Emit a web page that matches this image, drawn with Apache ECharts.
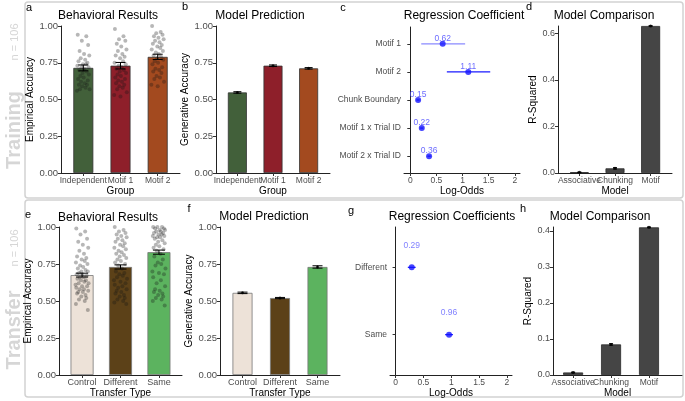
<!DOCTYPE html>
<html><head><meta charset="utf-8">
<script src="https://cdn.jsdelivr.net/npm/echarts@6/dist/echarts.min.js"></script>
<style>html,body{margin:0;padding:0;background:#fff}#c{width:685px;height:401px}</style>
</head><body><div id="c"></div>
<script>
// ---------- DATA ----------
const trainGroups = ['Independent', 'Motif 1', 'Motif 2'];
const trainEmpMean = [0.715, 0.73, 0.79];
const trainEmpSe = [0.02, 0.022, 0.018];
const trainPtsIndependent = [0.94,0.93,0.90,0.87,0.83,0.81,0.80,0.78,0.77,0.76,0.75,0.74,0.74,0.73,0.72,0.72,0.71,0.70,0.69,0.68,0.67,0.66,0.65,0.64,0.63,0.62,0.61,0.60,0.60,0.59,0.58,0.57,0.57,0.56,0.70];
const trainPtsMotif1 = [0.98,0.93,0.91,0.90,0.88,0.86,0.84,0.83,0.81,0.80,0.79,0.78,0.76,0.75,0.74,0.73,0.72,0.71,0.70,0.69,0.68,0.67,0.66,0.65,0.64,0.63,0.62,0.61,0.60,0.59,0.58,0.57,0.55,0.53,0.52];
const trainPtsMotif2 = [1.00,0.96,0.95,0.94,0.93,0.92,0.91,0.90,0.89,0.88,0.87,0.86,0.85,0.84,0.83,0.82,0.81,0.80,0.79,0.78,0.77,0.76,0.75,0.74,0.72,0.71,0.70,0.69,0.68,0.66,0.65,0.64,0.62,0.60,0.59];
const jitterTrain = [-0.15,0.08,-0.04,0.13,-0.10,0.02,0.16,-0.07,0.05,-0.13,0.11,-0.01,0.07,-0.16,0.14,-0.05,0.03,-0.11,0.09,-0.02,0.15,-0.08,0.01,-0.14,0.12,-0.06,0.04,-0.12,0.10,-0.03,0.06,-0.09,0.17,-0.17,0.00];
const trainModelMean = [0.548, 0.73, 0.712];
const trainModelSe = [0.005, 0.005, 0.005];
const trainCoefNames = ['Motif 1', 'Motif 2', 'Chunk Boundary', 'Motif 1 x Trial ID', 'Motif 2 x Trial ID'];
const trainCoef = [0.62, 1.11, 0.15, 0.22, 0.36];
const trainCoefLow = [0.21, 0.70, 0.12, 0.19, 0.33];
const trainCoefHigh = [1.05, 1.53, 0.18, 0.25, 0.39];
const trainModels = ['Associative', 'Chunking', 'Motif'];
const trainR2 = [0.003, 0.02, 0.632];
const trainR2Se = [0.001, 0.003, 0.001];

const transTypes = ['Control', 'Different', 'Same'];
const transEmpMean = [0.675, 0.73, 0.83];
const transEmpSe = [0.013, 0.014, 0.014];
const transPtsControl = [0.99,0.97,0.95,0.92,0.90,0.88,0.86,0.84,0.82,0.80,0.79,0.78,0.77,0.76,0.75,0.74,0.73,0.72,0.71,0.70,0.70,0.69,0.68,0.68,0.67,0.66,0.66,0.65,0.64,0.64,0.63,0.62,0.62,0.61,0.60,0.60,0.59,0.58,0.58,0.57,0.56,0.56,0.55,0.54,0.53,0.52,0.51,0.50,0.48,0.44];
const transPtsDifferent = [1.00,0.98,0.97,0.96,0.95,0.94,0.93,0.92,0.91,0.90,0.89,0.88,0.87,0.86,0.85,0.84,0.83,0.82,0.81,0.80,0.79,0.78,0.77,0.76,0.75,0.74,0.72,0.70,0.69,0.68,0.67,0.66,0.65,0.64,0.63,0.62,0.61,0.60,0.59,0.58,0.57,0.56,0.55,0.54,0.53,0.52,0.51,0.50,0.49,0.48];
const transPtsSame = [1.00,1.00,1.00,0.99,0.99,0.98,0.98,0.97,0.97,0.96,0.96,0.95,0.95,0.94,0.94,0.93,0.93,0.92,0.91,0.90,0.89,0.88,0.87,0.86,0.85,0.84,0.82,0.80,0.78,0.76,0.75,0.74,0.72,0.70,0.69,0.68,0.66,0.64,0.62,0.60,0.58,0.57,0.56,0.55,0.54,0.53,0.52,0.51,0.50,0.47];
const jitterTransfer = [-0.15,0.08,-0.04,0.13,-0.10,0.02,0.16,-0.07,0.05,-0.13,0.11,-0.01,0.07,-0.16,0.14,-0.05,0.03,-0.11,0.09,-0.02,0.15,-0.08,0.01,-0.14,0.12,-0.06,0.04,-0.12,0.10,-0.03,0.06,-0.09,0.17,-0.17,0.00,0.13,-0.15,0.05,-0.06,0.16,-0.10,0.02,-0.13,0.09,-0.02,0.11,-0.08,0.07,-0.16,0.15];
const transModelMean = [0.555, 0.52, 0.73];
const transModelSe = [0.005, 0.004, 0.008];
const transCoefNames = ['Different', 'Same'];
const transCoef = [0.29, 0.96];
const transCoefLow = [0.22, 0.89];
const transCoefHigh = [0.36, 1.03];
const transModels = ['Associative', 'Chunking', 'Motif'];
const transR2 = [0.007, 0.085, 0.41];
const transR2Se = [0.001, 0.002, 0.001];

const accTicks = [0, 0.25, 0.5, 0.75, 1];
const oddsTicks = [0, 0.5, 1, 1.5, 2];
const r2TicksTrain = [0, 0.2, 0.4, 0.6];
const r2TicksTrans = [0, 0.1, 0.2, 0.3, 0.4];

// ---------- STYLE ----------
const FONT = 'Liberation Sans, Arial, sans-serif';
const trainColors = ['#42603a', '#8e1f2a', '#a34a1f'];
const transColors = ['#ede2d8', '#5c4118', '#5cb35f'];
const greyBar = '#454545';
const axLine = {show: true, lineStyle: {color: '#222', width: 1}};
const axTickBase = {show: true, length: 3, lineStyle: {color: '#333'}};
const nameStyle = {fontSize: 10, color: '#000', fontFamily: FONT};
function lab(size, extra) {
  return Object.assign({fontSize: size, color: '#4d4d4d', fontFamily: FONT, margin: 3, hideOverlap: false,
    showMinLabel: true, showMaxLabel: true}, extra || {});
}

const grids = [
  {left: 61, top: 26, width: 119, height: 147},
  {left: 216, top: 26, width: 114, height: 147},
  {left: 404, top: 27, width: 116, height: 146},
  {left: 558, top: 26, width: 114, height: 147},
  {left: 59, top: 227, width: 123, height: 148},
  {left: 220, top: 227, width: 120, height: 148},
  {left: 390, top: 227, width: 122, height: 148},
  {left: 553, top: 227, width: 129, height: 148}
];

// main category-like x axis: ticks at every category, labels at odd positions
function catX(gi, names, nameText, gap, size, lo, hi) {
  const cv = names.map((_, i) => i + 1);
  const odd = cv.filter(v => v % 2 === 1);
  return {type: 'value', gridIndex: gi, min: lo, max: hi, splitLine: {show: false},
    axisLine: axLine, axisTick: Object.assign({}, axTickBase, {customValues: cv}),
    axisLabel: lab(size, {margin: 3, customValues: odd, formatter: v => names[Math.round(v) - 1]}),
    name: nameText, nameLocation: 'middle', nameGap: gap, nameTextStyle: nameStyle};
}
// companion axis on the same grid carrying the even-position labels (so neighbours are not auto-hidden)
function catXEven(gi, names, size, lo, hi) {
  const even = names.map((_, i) => i + 1).filter(v => v % 2 === 0);
  return {type: 'value', gridIndex: gi, min: lo, max: hi, position: 'bottom', offset: 0, splitLine: {show: false},
    axisLine: {show: false}, axisTick: {show: false},
    axisLabel: lab(size, {margin: 3, customValues: even, formatter: v => names[Math.round(v) - 1]})};
}
function catY(gi, names, size) {
  const cv = names.map((_, i) => i + 1);
  return {type: 'value', gridIndex: gi, min: 0.4, max: names.length + 0.6, inverse: true, splitLine: {show: false},
    axisLine: axLine, axisTick: Object.assign({}, axTickBase, {customValues: cv}),
    axisLabel: lab(size, {customValues: cv, formatter: v => names[Math.round(v) - 1]})};
}
function valY(gi, min, max, ticks, dec, nameText, gap, size) {
  return {type: 'value', gridIndex: gi, min: min, max: max, splitLine: {show: false},
    axisLine: axLine, axisTick: Object.assign({}, axTickBase, {customValues: ticks}),
    axisLabel: lab(size, {customValues: ticks, formatter: v => v.toFixed(dec)}),
    name: nameText, nameLocation: 'middle', nameRotate: 90, nameGap: gap, nameTextStyle: nameStyle};
}
function valX(gi, min, max, ticks, nameText, gap, size) {
  return {type: 'value', gridIndex: gi, min: min, max: max, splitLine: {show: false},
    axisLine: axLine, axisTick: Object.assign({}, axTickBase, {customValues: ticks}),
    axisLabel: lab(size, {customValues: ticks, formatter: v => String(v)}),
    name: nameText, nameLocation: 'middle', nameGap: gap, nameTextStyle: nameStyle};
}

function barSeries(ai, means, colors, width, border) {
  return {type: 'bar', xAxisIndex: ai, yAxisIndex: ai, barWidth: width,
    data: means.map((m, i) => ({value: [i + 1, m], itemStyle: {color: colors[i], borderColor: border, borderWidth: 0.8}}))};
}
function vErr(ai, means, ses, cap) {
  return {type: 'custom', xAxisIndex: ai, yAxisIndex: ai, z: 5,
    encode: {x: 0, y: [1, 2]},
    data: means.map((m, i) => [i + 1, m - ses[i], m + ses[i]]),
    renderItem: function (params, api) {
      const p1 = api.coord([api.value(0), api.value(1)]);
      const p2 = api.coord([api.value(0), api.value(2)]);
      const st = {stroke: '#000', lineWidth: 1};
      return {type: 'group', children: [
        {type: 'line', shape: {x1: p1[0], y1: p1[1], x2: p2[0], y2: p2[1]}, style: st},
        {type: 'line', shape: {x1: p1[0] - cap, y1: p1[1], x2: p1[0] + cap, y2: p1[1]}, style: st},
        {type: 'line', shape: {x1: p2[0] - cap, y1: p2[1], x2: p2[0] + cap, y2: p2[1]}, style: st}
      ]};
    }};
}
function meanDots(ai, means) {
  return {type: 'scatter', xAxisIndex: ai, yAxisIndex: ai, z: 6, symbolSize: 3,
    itemStyle: {color: '#000'}, data: means.map((m, i) => [i + 1, m])};
}
function jitterSeries(ai, groups, jit) {
  const data = [];
  groups.forEach((vals, gi) => vals.forEach((v, k) => data.push([gi + 1 + jit[k % jit.length], v])));
  return {type: 'scatter', xAxisIndex: ai, yAxisIndex: ai, z: 4, symbolSize: 4,
    itemStyle: {color: 'rgba(20,20,20,0.38)'}, data: data};
}
function hErr(ai, lows, highs, lineColors) {
  return {type: 'custom', xAxisIndex: ai, yAxisIndex: ai, z: 4,
    encode: {x: [0, 1], y: 2},
    data: lows.map((l, i) => [l, highs[i], i + 1]),
    renderItem: function (params, api) {
      const p1 = api.coord([api.value(0), api.value(2)]);
      const p2 = api.coord([api.value(1), api.value(2)]);
      return {type: 'line', shape: {x1: p1[0], y1: p1[1], x2: p2[0], y2: p2[1]},
        style: {stroke: lineColors[params.dataIndex], lineWidth: 1.3}};
    }};
}
function coefPts(ai, coefs, labelDist, labelColor) {
  return {type: 'scatter', xAxisIndex: ai, yAxisIndex: ai, z: 6, symbolSize: 6,
    itemStyle: {color: '#1414ff'},
    label: {show: true, position: 'top', distance: labelDist, fontSize: 8.5, color: labelColor, fontFamily: FONT,
      formatter: p => p.value[0].toFixed(2)},
    data: coefs.map((c, i) => [c, i + 1])};
}

const xAxes = [
  catX(0, trainGroups, 'Group', 13, 8.5, 0.4, 3.6),
  catX(1, trainGroups, 'Group', 13, 8.5, 0.4, 3.6),
  valX(2, -0.12, 2.1, oddsTicks, 'Log-Odds', 12, 8.5),
  catX(3, trainModels, 'Model', 13, 8.5, 0.4, 3.6),
  catX(4, transTypes, 'Transfer Type', 13, 9, 0.4, 3.6),
  catX(5, transTypes, 'Transfer Type', 13, 9, 0.4, 3.6),
  valX(6, -0.1, 2.09, oddsTicks, 'Log-Odds', 10, 8.5),
  catX(7, transModels, 'Model', 13, 8.5, 0.47, 3.87),
  catXEven(0, trainGroups, 8.5, 0.4, 3.6),
  catXEven(1, trainGroups, 8.5, 0.4, 3.6),
  catXEven(3, trainModels, 8.5, 0.4, 3.6),
  catXEven(4, transTypes, 9, 0.4, 3.6),
  catXEven(5, transTypes, 9, 0.4, 3.6),
  catXEven(7, transModels, 8.5, 0.47, 3.87)
];
const yAxes = [
  valY(0, 0, 1, accTicks, 2, 'Empirical Accuracy', 25, 9.5),
  valY(1, 0, 1, accTicks, 2, 'Generative Accuracy', 23, 9.5),
  catY(2, trainCoefNames, 8.5),
  valY(3, 0, 0.632, r2TicksTrain, 1, 'R-Squared', 17, 9),
  valY(4, 0, 1, accTicks, 2, 'Empirical Accuracy', 23, 9.5),
  valY(5, 0, 1, accTicks, 2, 'Generative Accuracy', 22, 9.5),
  catY(6, transCoefNames, 8.5),
  valY(7, 0, 0.411, r2TicksTrans, 1, 'R-Squared', 17, 9)
];

const series = [
  barSeries(0, trainEmpMean, trainColors, 20, '#333'),
  jitterSeries(0, [trainPtsIndependent, trainPtsMotif1, trainPtsMotif2], jitterTrain),
  vErr(0, trainEmpMean, trainEmpSe, 5),
  barSeries(1, trainModelMean, trainColors, 19, '#333'),
  vErr(1, trainModelMean, trainModelSe, 4),
  meanDots(1, trainModelMean),
  hErr(2, trainCoefLow, trainCoefHigh, ['#8a8aff', '#1a1aff', '#1a1aff', '#1a1aff', '#1a1aff']),
  coefPts(2, trainCoef, -2, '#4646ff'),
  barSeries(3, trainR2, [greyBar, greyBar, greyBar], 19, '#2a2a2a'),
  vErr(3, trainR2, trainR2Se, 2),
  meanDots(3, trainR2),
  barSeries(4, transEmpMean, transColors, 23, '#777'),
  jitterSeries(4, [transPtsControl, transPtsDifferent, transPtsSame], jitterTransfer),
  vErr(4, transEmpMean, transEmpSe, 6),
  barSeries(5, transModelMean, transColors, 20, '#777'),
  vErr(5, transModelMean, transModelSe, 5),
  meanDots(5, transModelMean),
  hErr(6, transCoefLow, transCoefHigh, ['#1a1aff', '#1a1aff']),
  coefPts(6, transCoef, 14, '#6262ff'),
  barSeries(7, transR2, [greyBar, greyBar, greyBar], 20, '#2a2a2a'),
  vErr(7, transR2, transR2Se, 2),
  meanDots(7, transR2)
];

function txt(x, y, s, size, color, opts) {
  return Object.assign({type: 'text', x: x, y: y, z: 10,
    style: {text: s, fontSize: size, fill: color, fontFamily: FONT, align: 'center', verticalAlign: 'middle'}}, opts || {});
}
function bigSide(x, y, s) {
  return {type: 'text', x: x, y: y, z: 10, rotation: Math.PI / 2,
    style: {text: s, fontSize: 20, fontWeight: 'bold', fill: '#d6d6d6', fontFamily: FONT, align: 'center', verticalAlign: 'middle'}};
}
const graphics = [
  {type: 'rect', shape: {x: 25, y: 2, width: 658, height: 196, r: 3}, style: {fill: 'none', stroke: '#d2d2d2', lineWidth: 1.5}},
  {type: 'rect', shape: {x: 25, y: 200, width: 658, height: 197, r: 3}, style: {fill: 'none', stroke: '#d2d2d2', lineWidth: 1.5}},
  bigSide(14, 130, 'Training'),
  txt(15, 42, 'n = 106', 11, '#d6d6d6', {rotation: Math.PI / 2}),
  bigSide(14, 330, 'Transfer'),
  txt(15, 248, 'n = 106', 11, '#d6d6d6', {rotation: Math.PI / 2}),
  txt(29, 8, 'a', 11, '#000'), txt(185, 7, 'b', 11, '#000'), txt(343, 8, 'c', 11, '#000'), txt(529, 7, 'd', 11, '#000'),
  txt(28, 215, 'e', 11, '#000'), txt(189, 209, 'f', 11, '#000'), txt(351, 211, 'g', 11, '#000'), txt(523, 209, 'h', 11, '#000'),
  txt(108, 16, 'Behavioral Results', 12, '#000'),
  txt(260, 16, 'Model Prediction', 12, '#000'),
  txt(464, 16, 'Regression Coefficient', 12, '#000'),
  txt(604, 16, 'Model Comparison', 12, '#000'),
  txt(108, 218, 'Behavioral Results', 12, '#000'),
  txt(264, 217, 'Model Prediction', 12, '#000'),
  txt(452, 217, 'Regression Coefficients', 12, '#000'),
  txt(600, 217, 'Model Comparison', 12, '#000')
];

const chart = echarts.init(document.getElementById('c'), null, {renderer: 'canvas'});
chart.setOption({
  animation: false,
  backgroundColor: '#fff',
  textStyle: {fontFamily: FONT},
  grid: grids,
  xAxis: xAxes,
  yAxis: yAxes,
  series: series,
  graphic: graphics
});
</script></body></html>
